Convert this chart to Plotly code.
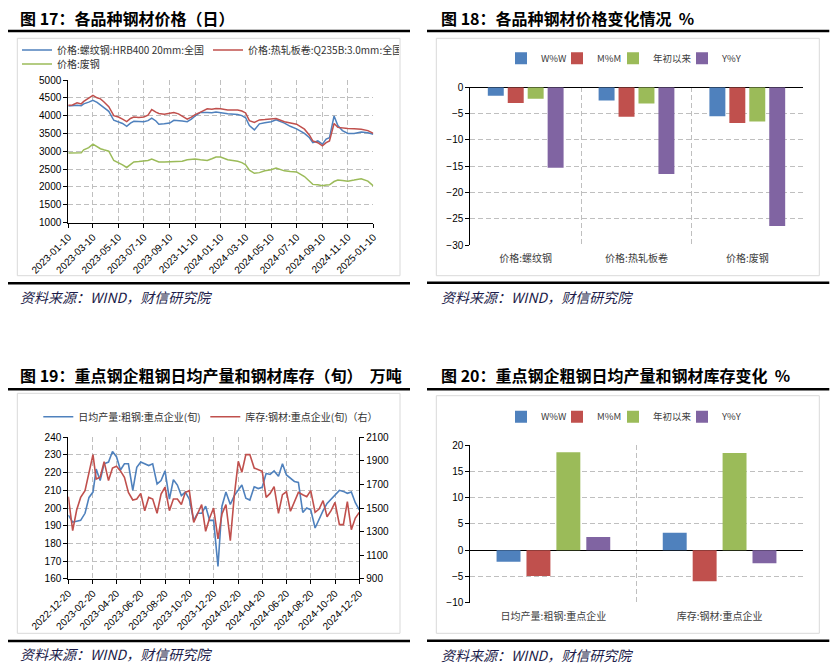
import plotly.graph_objects as go

W, H = 834, 672

# 图17 各品种钢材价格（日）
price_dates = ["2023-01-10", "2023-01-20", "2023-01-31", "2023-02-10", "2023-02-16", "2023-02-28",
               "2023-03-10", "2023-03-20", "2023-03-28", "2023-04-05", "2023-04-17", "2023-04-29",
               "2023-05-10", "2023-05-20", "2023-05-30", "2023-06-08", "2023-06-16", "2023-06-28",
               "2023-07-10", "2023-07-20", "2023-07-29", "2023-08-08", "2023-08-15", "2023-08-28",
               "2023-09-10", "2023-09-20", "2023-10-01", "2023-10-10", "2023-10-22", "2023-11-01",
               "2023-11-10", "2023-11-23", "2023-12-09", "2023-12-20", "2023-12-30", "2024-01-10",
               "2024-01-20", "2024-01-27", "2024-02-20", "2024-03-01", "2024-03-10", "2024-03-19",
               "2024-03-31", "2024-04-12", "2024-04-25", "2024-05-10", "2024-05-22", "2024-06-11",
               "2024-06-25", "2024-07-10", "2024-07-29", "2024-08-10", "2024-08-18", "2024-08-30",
               "2024-09-10", "2024-09-19", "2024-09-27", "2024-10-08", "2024-10-17", "2024-10-28",
               "2024-11-10", "2024-11-25", "2024-12-12", "2024-12-28", "2025-01-10"]
rebar = [4270, 4280, 4290, 4280, 4330, 4380, 4430, 4370, 4300, 4250,
         4120, 3870, 3830, 3780, 3700, 3790, 3840, 3830, 3830, 3860,
         3930, 3850, 3760, 3770, 3790, 3870, 3870, 3850, 3830, 3900,
         3990, 4090, 4090, 4080, 4100, 4080, 4060, 4050, 4030, 4000,
         3940, 3720, 3600, 3770, 3800, 3830, 3880, 3790, 3700, 3630,
         3500, 3380, 3240, 3290, 3200, 3340, 3380, 3990, 3720, 3580,
         3500, 3500, 3540, 3520, 3480]
hrc = [4290, 4300, 4360, 4330, 4400, 4480, 4570, 4500, 4470, 4390,
       4250, 4000, 3960, 3900, 3830, 3920, 3960, 3950, 3960, 4010,
       4170, 4100, 4060, 4040, 4060, 4090, 4050, 3980, 3900, 3960,
       4030, 4100, 4190, 4180, 4200, 4190, 4170, 4160, 4160, 4130,
       4075, 3860, 3810, 3880, 3890, 3900, 3920, 3830, 3800, 3760,
       3620, 3450, 3290, 3240, 3150, 3240, 3290, 3780, 3670, 3650,
       3640, 3630, 3620, 3580, 3500]
scrap = [2950, 2950, 2970, 2960, 3040, 3100, 3200, 3120, 3070, 3040,
         3000, 2740, 2680, 2620, 2545, 2640, 2700, 2710, 2720, 2740,
         2780, 2740, 2700, 2700, 2700, 2700, 2700, 2720, 2760, 2780,
         2780, 2760, 2740, 2790, 2840, 2840, 2800, 2760, 2720, 2680,
         2620, 2470, 2380, 2400, 2450, 2480, 2530, 2450, 2430, 2420,
         2290, 2150, 2070, 2060, 2030, 2050, 2060, 2150, 2190, 2180,
         2160, 2190, 2230, 2160, 2030]
price_ticks = ["2023-01-10", "2023-03-10", "2023-05-10", "2023-07-10", "2023-09-10", "2023-11-10",
               "2024-01-10", "2024-03-10", "2024-05-10", "2024-07-10", "2024-09-10", "2024-11-10",
               "2025-01-10"]

# 图18 价格变化 %
cat18 = ["价格:螺纹钢", "价格:热轧板卷", "价格:废钢"]
wow18 = [-1.6, -2.5, -5.5]
mom18 = [-3.0, -5.6, -6.8]
ytd18 = [-2.2, -3.1, -6.5]
yoy18 = [-15.3, -16.5, -26.4]

# 图19 日均产量（左）和库存（右），旬
out19 = [196, 192, 192.5, 193, 197, 206, 209, 222, 215.5, 225,
         226, 232, 229, 221.5, 225, 225, 210, 223, 226, 225,
         224, 225, 213.6, 215.5, 221, 205, 216, 213, 207, 209,
         205, 193, 197, 197, 201, 193, 193, 167, 201, 209,
         202, 207, 210, 213, 205.5, 204.5, 212, 211, 211.7, 219.6,
         219, 221, 218, 225, 218.7, 217, 215, 214.5, 197.5, 200,
         199, 188.7, 194, 198.5, 202.6, 205, 207.5, 210, 209.4, 208.3,
         209, 203, 199]
inv19 = [1596, 1308, 1483, 1590, 1647, 1815, 1953, 1746, 1761, 1893,
         1733, 1839, 1854, 1815, 1761, 1633, 1568, 1576, 1624, 1477,
         1590, 1576, 1455, 1619, 1676, 1477, 1576, 1576, 1529, 1633,
         1647, 1378, 1449, 1529, 1302, 1415, 1500, 1238, 1449, 1529,
         1223, 1605, 1896, 1803, 1953, 1953, 1839, 1822, 1812, 1590,
         1624, 1681, 1455, 1613, 1638, 1472, 1548, 1633, 1613, 1596,
         1647, 1463, 1491, 1563, 1426, 1477, 1548, 1359, 1359, 1554,
         1316, 1415, 1463]
month_ends = {1: 31, 2: 28, 3: 31, 4: 30, 5: 31, 6: 30, 7: 31, 8: 31, 9: 30, 10: 31, 11: 30, 12: 31}
dekad_dates = ["2022-12-20", "2022-12-31"]
for yr in (2023, 2024):
    for mo in range(1, 13):
        if yr == 2024 and mo == 12:
            break
        last = 29 if (yr == 2024 and mo == 2) else month_ends[mo]
        for d in (10, 20, last):
            dekad_dates.append(f"{yr}-{mo:02d}-{d:02d}")
dekad_dates += ["2024-12-10", "2024-12-20"]
dekad_ticks = ["2022-12-20", "2023-02-20", "2023-04-20", "2023-06-20", "2023-08-20", "2023-10-20",
               "2023-12-20", "2024-02-20", "2024-04-20", "2024-06-20", "2024-08-20", "2024-10-20",
               "2024-12-20"]

# 图20 产量和库存变化 %
cat20 = ["日均产量:粗钢:重点企业", "库存:钢材:重点企业"]
wow20 = [-2.2, 3.3]
mom20 = [-4.9, -5.9]
ytd20 = [18.6, 18.5]
yoy20 = [2.5, -2.5]

bar_names = ["W%W", "M%M", "年初以来", "Y%Y"]
BLUE, RED, GREEN, PURPLE = "#4F81BD", "#C0504D", "#9BBB59", "#8064A2"
bar_colors = [BLUE, RED, GREEN, PURPLE]

CJK = "Noto Sans CJK SC"
NUM = "Liberation Sans, Arial"


def px(x):
    return x / W


def py(y):
    return 1 - y / H


fig = go.Figure()

# 图17
for name, vals, col, lg in [("价格:螺纹钢:HRB400 20mm:全国", rebar, BLUE, "legend"),
                            ("价格:热轧板卷:Q235B:3.0mm:全国", hrc, RED, "legend"),
                            ("价格:废钢", scrap, GREEN, "legend2")]:
    fig.add_trace(go.Scatter(x=price_dates, y=vals, mode="lines", name=name, legend=lg,
                             line=dict(color=col, width=1.5), xaxis="x", yaxis="y"))

# 图18 / 图20 柱状图，每个系列一个小图例，便于排得紧凑一些
legs18 = ["legend3", "legend6", "legend7", "legend8"]
legs20 = ["legend5", "legend9", "legend10", "legend11"]
leg_x = [501, 557, 613, 682]
for name, vals, col, lg in zip(bar_names, [wow18, mom18, ytd18, yoy18], bar_colors, legs18):
    fig.add_trace(go.Bar(x=cat18, y=vals, name=name, marker_color=col, legend=lg,
                         xaxis="x2", yaxis="y2"))

# 图19
fig.add_trace(go.Scatter(x=dekad_dates, y=out19, mode="lines", name="日均产量:粗钢:重点企业(旬)",
                         line=dict(color=BLUE, width=1.6), legend="legend4", xaxis="x3", yaxis="y3"))
fig.add_trace(go.Scatter(x=dekad_dates, y=inv19, mode="lines", name="库存:钢材:重点企业(旬)（右）",
                         line=dict(color=RED, width=1.6), legend="legend4", xaxis="x3", yaxis="y4"))

for name, vals, col, lg in zip(bar_names, [wow20, mom20, ytd20, yoy20], bar_colors, legs20):
    fig.add_trace(go.Bar(x=cat20, y=vals, name=name, marker_color=col, legend=lg,
                         xaxis="x4", yaxis="y5"))

tickfont = dict(family=NUM, size=10, color="black")
catfont = dict(family=CJK, size=10, color="#404040")
grid = dict(showgrid=True, gridcolor="#BFBFBF", gridwidth=1, griddash="5px,3px")
line_ax = dict(showline=True, linecolor="black", linewidth=1, ticks="outside", ticklen=4,
               tickcolor="black", tickfont=tickfont, zeroline=False)
bar_y = dict(showline=True, linecolor="black", ticks="outside", ticklen=4, tickcolor="black",
             tickfont=tickfont, zeroline=True, zerolinecolor="black", zerolinewidth=1, dtick=5)
bar_x = dict(type="category", tickson="boundaries", ticks="", showline=False, tickfont=catfont,
             ticklabelstandoff=6)

fig.update_layout(
    template="none",
    xaxis=dict(domain=[px(68.3), px(373.3)], anchor="y", type="date",
               range=["2023-01-10", "2025-01-10"], tickmode="array", tickvals=price_ticks,
               ticktext=price_ticks, tickangle=-45, **grid, **line_ax),
    yaxis=dict(domain=[py(222.5), py(80)], anchor="x", range=[1000, 5000], dtick=500, tick0=1000,
               **grid, **line_ax),
    xaxis2=dict(domain=[px(470.3), px(802.7)], anchor="y2", **bar_x, **grid),
    yaxis2=dict(domain=[py(245), py(87.3)], anchor="x2", range=[-30, 0], **bar_y, **grid),
    xaxis3=dict(domain=[px(68.3), px(359.3)], anchor="y3", type="date",
                range=["2022-12-20", "2024-12-20"], tickmode="array", tickvals=dekad_ticks,
                ticktext=dekad_ticks, tickangle=-45, **grid, **line_ax),
    yaxis3=dict(domain=[py(578.7), py(437.3)], anchor="x3", range=[160, 240], dtick=10,
                **grid, **line_ax),
    yaxis4=dict(overlaying="y3", side="right", anchor="x3", range=[900, 2100], dtick=200,
                tick0=900, showgrid=False, **line_ax),
    xaxis4=dict(domain=[px(470.3), px(802.7)], anchor="y5", **bar_x, **grid),
    yaxis5=dict(domain=[py(602.7), py(445)], anchor="x4", range=[-10, 20], **bar_y, **grid),
    barmode="group", bargap=0.28, bargroupgap=0.2,
)

legfont = dict(family=CJK, size=10, color="#333333")
leg_common = dict(orientation="h", bgcolor="rgba(0,0,0,0)", borderwidth=0, font=legfont,
                  yanchor="middle", xanchor="left")
barleg = dict(orientation="h", bgcolor="rgba(0,0,0,0)", borderwidth=0,
              font=dict(family=CJK, size=9.5, color="#404040"), xanchor="left", yanchor="middle")
fig.update_layout(
    legend=dict(x=px(17), y=py(50), entrywidth=146, **leg_common),
    legend2=dict(x=px(17), y=py(64), **leg_common),
    legend4=dict(x=px(38.3), y=py(416.7), entrywidth=122, **leg_common),
)
for lg, x in zip(legs18, leg_x):
    fig.update_layout({lg: dict(x=px(x), y=py(58.3), **barleg)})
for lg, x in zip(legs20, leg_x):
    fig.update_layout({lg: dict(x=px(x), y=py(416.7), **barleg)})

# 标题、分隔线、图框、来源
titles = [(18.3, 18.3, "图 17：各品种钢材价格（日）"),
          (438.7, 18.3, "图 18：各品种钢材价格变化情况  %"),
          (18.3, 375, "图 19：重点钢企粗钢日均产量和钢材库存（旬）  万吨"),
          (438.7, 375, "图 20：重点钢企粗钢日均产量和钢材库存变化  %")]
sources = [(18.3, 297), (438.7, 297), (18.3, 654), (438.7, 655)]
annotations = []
for x, y, t in titles:
    annotations.append(dict(x=px(x), y=py(y), xref="paper", yref="paper", xanchor="left",
                            yanchor="middle", showarrow=False, text="<b>" + t + "</b>",
                            font=dict(family=CJK, size=16, color="black")))
for x, y in sources:
    annotations.append(dict(x=px(x), y=py(y), xref="paper", yref="paper", xanchor="left",
                            yanchor="middle", showarrow=False, text="<i>资料来源：WIND，财信研究院</i>",
                            font=dict(family=CJK, size=14, color="#1C1C4A")))

shapes = []
for x0, x1, ys in [(8, 410, (31, 283.3)), (427, 829.3, (31, 282.7)),
                   (8, 410, (389.3, 641)), (427, 829.3, (389.3, 640.7))]:
    for y in ys:
        shapes.append(dict(type="line", xref="paper", yref="paper", x0=px(x0), x1=px(x1),
                           y0=py(y), y1=py(y), line=dict(color="black", width=2.5)))
for x0, y0, x1, y1 in [(17.3, 38.3, 400, 275.7), (436.3, 38.3, 819.3, 275.7),
                       (17.3, 393.3, 400, 633.3), (436.3, 395.7, 819.3, 633.3)]:
    shapes.append(dict(type="rect", xref="paper", yref="paper", x0=px(x0), x1=px(x1),
                       y0=py(y0), y1=py(y1), line=dict(color="#D9D9D9", width=1)))

fig.update_layout(width=W, height=H, autosize=False,
                  margin=dict(l=0, r=0, t=0, b=0, pad=0, autoexpand=False),
                  paper_bgcolor="white", plot_bgcolor="white", font=dict(family=CJK),
                  annotations=annotations, shapes=shapes, showlegend=True)

# 页面默认的 body 边距会让整张图偏移 8px
fig.write_html("out.html", config={"displayModeBar": False},
               post_script="document.body.style.margin='0';")
